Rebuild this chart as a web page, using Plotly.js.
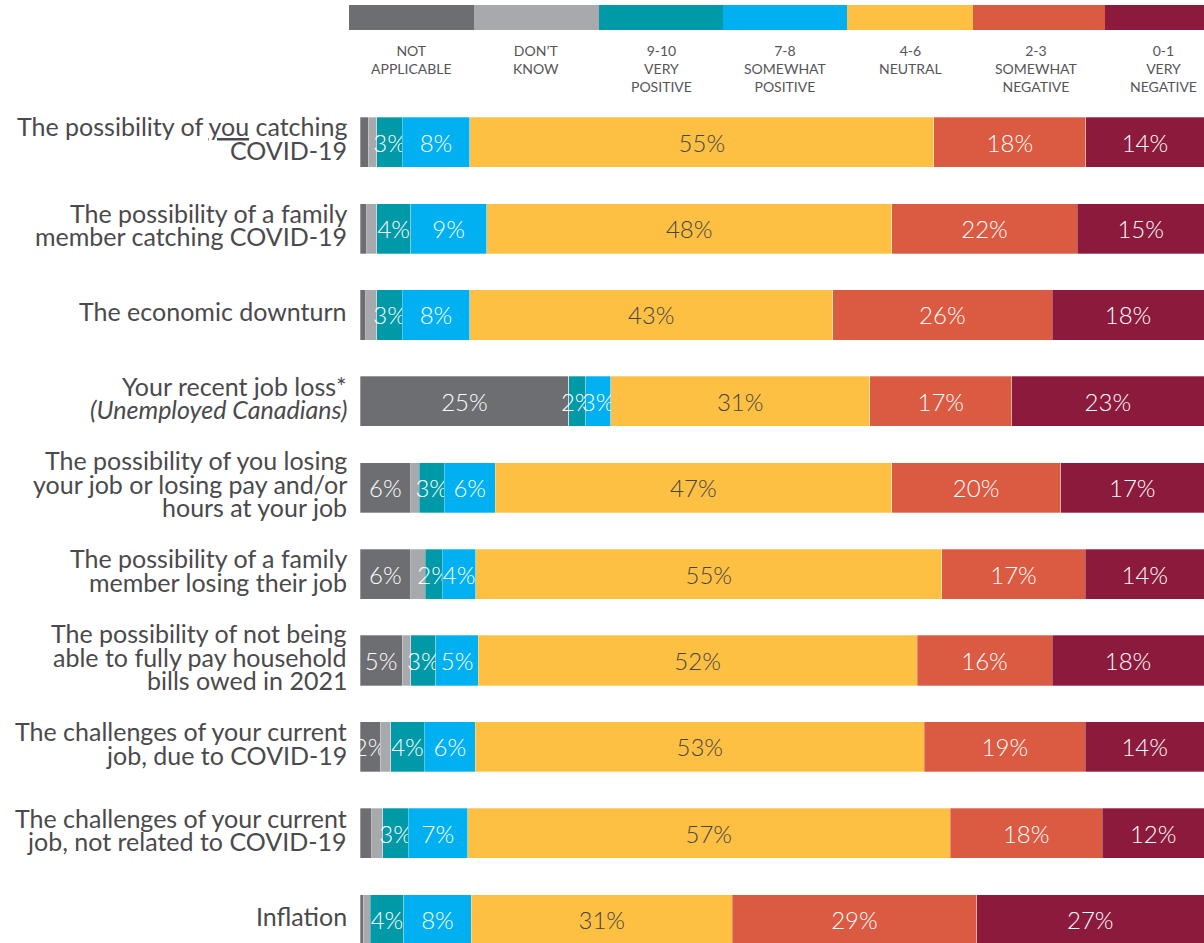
<!DOCTYPE html>
<html>
<head>
<meta charset="utf-8">
<script src="https://cdn.plot.ly/plotly-3.0.1.min.js"></script>
<style>html,body{margin:0;padding:0;background:#fff;}#chart{width:1204px;height:943px;}</style>
</head>
<body>
<div id="chart"></div>
<script>
const categories = [
  "The possibility of <u>you</u> catching<br>COVID-19",
  "The possibility of a family<br>member catching COVID-19",
  "The economic downturn",
  "Your recent job loss*<br><i>(Unemployed Canadians)</i>",
  "The possibility of you losing<br>your job or losing pay and/or<br>hours at your job",
  "The possibility of a family<br>member losing their job",
  "The possibility of not being<br>able to fully pay household<br>bills owed in 2021",
  "The challenges of your current<br>job, due to COVID-19",
  "The challenges of your current<br>job, not related to COVID-19",
  "Inflation"
];
const notApplicable     = [1, 0.8, 0.7, 25, 6, 6, 5, 2.4, 1.4, 0.4];
const dontKnow          = [1, 1.2, 1.3, 0, 1, 1.7, 1, 1.2, 1.3, 0.8];
const veryPositive      = [3, 4, 3, 2, 3, 2, 3, 4, 3, 4];
const somewhatPositive  = [8, 9, 8, 3, 6, 4, 5, 6, 7, 8];
const neutral           = [55, 48, 43, 31, 47, 55, 52, 53, 57, 31];
const somewhatNegative  = [18, 22, 26, 17, 20, 17, 16, 19, 18, 29];
const veryNegative      = [14, 15, 18, 23, 17, 14, 18, 14, 12, 27];

const seriesNames = ["NOT<br>APPLICABLE", "DON’T<br>KNOW", "9-10<br>VERY<br>POSITIVE", "7-8<br>SOMEWHAT<br>POSITIVE", "4-6<br>NEUTRAL", "2-3<br>SOMEWHAT<br>NEGATIVE", "0-1<br>VERY<br>NEGATIVE"];
const seriesValues = [notApplicable, dontKnow, veryPositive, somewhatPositive, neutral, somewhatNegative, veryNegative];
const colors = ["#6d6e71", "#a7a9ac", "#0099a8", "#00b0f0", "#fdc043", "#db5a42", "#8b1a3c"];
const textColors = ["#ffffff", "#ffffff", "#ffffff", "#ffffff", "#454547", "#ffffff", "#ffffff"];
const minLabel = [2, 1000, 0, 0, 0, 0, 0];

const W = 1204, H = 943, L = 360, T = 99;
const px2x = p => (p - L) / (W - L);
const py2y = p => (H - p) / (H - T);
const FONT = "Lato, sans-serif";

const traces = seriesValues.map((vals, i) => ({
  type: "bar",
  orientation: "h",
  y: categories.map((c, k) => k),
  x: vals,
  name: seriesNames[i],
  marker: { color: colors[i], line: { color: "rgba(255,255,255,0.6)", width: 0.5 } },
  text: vals.map(v => (v >= minLabel[i] && v > 0) ? Math.round(v) + "%" : ""),
  textposition: "inside",
  insidetextanchor: "middle",
  textangle: 0,
  constraintext: "none",
  textfont: { family: FONT, size: 24, color: textColors[i], weight: 300 },
  hoverinfo: "skip"
}));

const shapes = [];
const annotations = [];
const legEdges = [349, 474, 599, 723, 847, 973, 1105, 1230];
const legCenters = [411, 536, 661, 785, 910, 1036, 1163];
seriesNames.forEach((n, i) => {
  shapes.push({
    type: "rect", xref: "paper", yref: "paper",
    x0: px2x(legEdges[i]), x1: px2x(legEdges[i + 1]),
    y0: py2y(30), y1: py2y(5),
    fillcolor: colors[i], line: { width: 0 }
  });
  annotations.push({
    xref: "paper", yref: "paper",
    x: px2x(legCenters[i]), y: py2y(40),
    xanchor: "center", yanchor: "top",
    text: n, showarrow: false, align: "center",
    font: { family: FONT, size: 14, color: "#555557" }
  });
});

// category labels, one annotation per line for tighter line spacing
const lineGap = 23.5;
categories.forEach((c, i) => {
  const lines = c.split("<br>");
  const n = lines.length;
  lines.forEach((ln, k) => {
    annotations.push({
      xref: "paper", yref: "y",
      x: px2x(349), y: i,
      xanchor: "right", yanchor: "middle",
      yshift: 4 - (k - (n - 1) / 2) * lineGap,
      text: ln, showarrow: false, align: "right",
      font: { family: FONT, size: 25, color: "#4a4a4c" }
    });
  });
});

const layout = {
  width: W, height: H,
  margin: { l: L, r: 0, t: T, b: 0, pad: 0 },
  barmode: "stack",
  barnorm: "percent",
  bargap: 0.42,
  showlegend: false,
  paper_bgcolor: "#ffffff",
  plot_bgcolor: "#ffffff",
  uniformtext: { mode: "show", minsize: 24 },
  xaxis: { range: [0, 100], visible: false, fixedrange: true },
  yaxis: {
    type: "linear",
    range: [9.27, -0.5],
    showgrid: false, zeroline: false, showline: false,
    showticklabels: false, ticks: "",
    automargin: false, fixedrange: true
  },
  shapes: shapes,
  annotations: annotations
};

Plotly.newPlot("chart", traces, layout, { displayModeBar: false, staticPlot: true });
</script>
</body>
</html>
